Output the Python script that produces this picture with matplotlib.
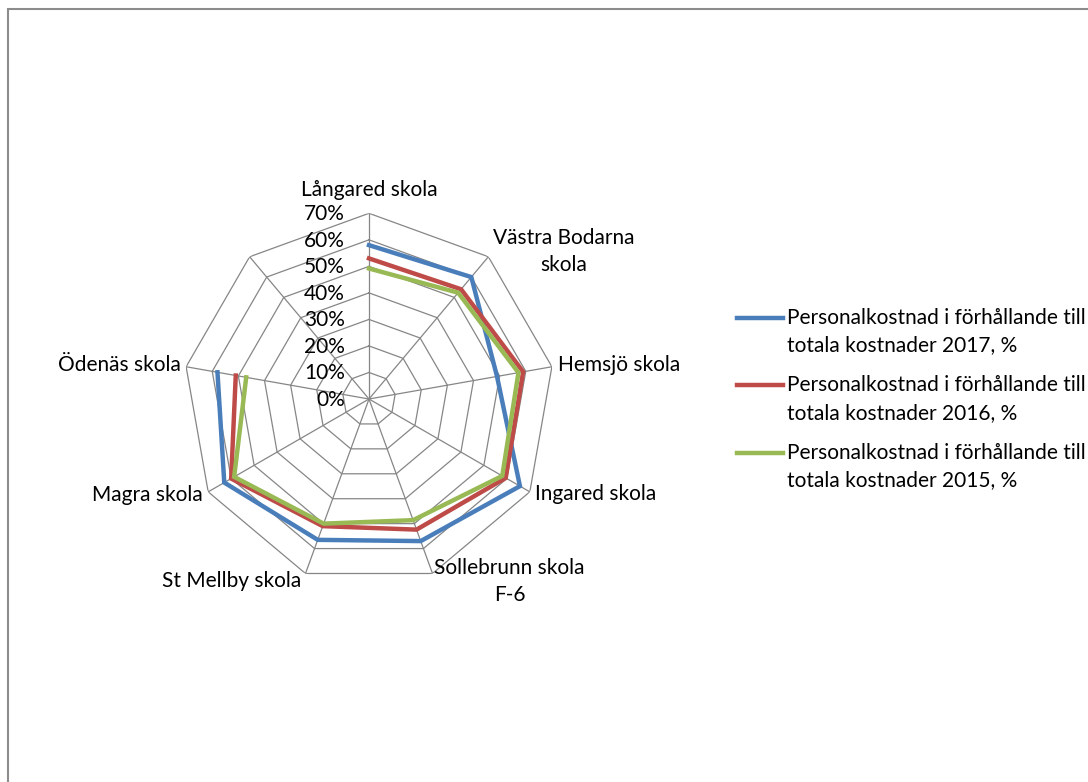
import numpy as np
import matplotlib
matplotlib.use("Agg")
import matplotlib.pyplot as plt
from matplotlib.lines import Line2D
from matplotlib.patches import Rectangle

plt.rcParams['font.family'] = ['Lato', 'DejaVu Sans']

# categories (the ninth spoke has no label and no data)
schools = ['Långared skola', 'Västra Bodarna\nskola', 'Hemsjö skola', 'Ingared skola',
           'Sollebrunn skola\nF-6', 'St Mellby skola', 'Magra skola', 'Ödenäs skola', '']

v2017 = [58, 60, 49, 65.7, 57, 56.5, 63, 58, np.nan]
v2016 = [53, 54, 59, 59.5, 52.4, 51, 60, 51, np.nan]
v2015 = [49.2, 52.3, 57.2, 58, 48.6, 50, 58.7, 47, np.nan]

series_names = ['Personalkostnad i förhållande till\ntotala kostnader 2017, %',
                'Personalkostnad i förhållande till\ntotala kostnader 2016, %',
                'Personalkostnad i förhållande till\ntotala kostnader 2015, %']
series_colors = ['#4A7EBB', '#BE4B48', '#98B954']

rings = [0, 10, 20, 30, 40, 50, 60, 70]
ring_labels = ['0%', '10%', '20%', '30%', '40%', '50%', '60%', '70%']

W, H = 1088, 782
fig = plt.figure(figsize=(W / 100, H / 100), dpi=100)

# chart area border (only left/top visible in the reference)
fig.patches.append(Rectangle((8 / W, -0.1), 1.2, (H - 9) / H + 0.1, transform=fig.transFigure,
                             fill=False, edgecolor='#8c8c8c', linewidth=1.5))

cx, cy, R = 369, 399, 185.7
ax = fig.add_axes([(cx - R) / W, (H - cy - R) / H, 2 * R / W, 2 * R / H], projection='polar')
ax.set_theta_zero_location('N')
ax.set_theta_direction(-1)
ax.set_ylim(0, 70)
ax.axis('off')

n = len(schools)
theta = np.arange(n) * 2 * np.pi / n
theta_c = np.append(theta, theta[0])

gc = '#868686'
for r in rings[1:]:
    ax.plot(theta_c, [r] * (n + 1), color=gc, lw=0.9, zorder=1)
for t in theta:
    ax.plot([t, t], [0, 70], color=gc, lw=0.9, zorder=1)

for vals, col in zip([v2017, v2016, v2015], series_colors):
    vv = np.append(vals, vals[0])
    ax.plot(theta_c, vv, color=col, lw=3.2, solid_joinstyle='miter', zorder=3)

fs = 15
for r, lab in zip(rings, ring_labels):
    ax.annotate(lab, (0, r), xytext=(-24, -1), textcoords='offset pixels',
                ha='right', va='center', fontsize=fs)

# label offsets in pixels from the outer vertex
offsets = [(0, 23, 'center'), (75, 5, 'center'), (6, 2, 'left'), (5, -2, 'left'),
           (77, -8, 'center'), (-4, -7, 'right'), (-5, -3, 'right'), (-5, 2, 'right'), (0, 0, 'center')]
for t, lab, (dx, dy, ha) in zip(theta, schools, offsets):
    if lab:
        ax.annotate(lab, (t, 70), xytext=(dx, dy), textcoords='offset pixels',
                    ha=ha, va='center', fontsize=fs, multialignment='center', linespacing=1.45)

# legend
for i, (name, col) in enumerate(zip(series_names, series_colors)):
    y = H - (318 + i * 67.5)
    fig.add_artist(Line2D([737 / W, 783 / W], [y / H, y / H], color=col, lw=3.2,
                          transform=fig.transFigure))
    fig.text(787 / W, (y - 13.5) / H, name, ha='left', va='center', fontsize=fs, linespacing=1.45)

fig.savefig('out.png', dpi=100)
